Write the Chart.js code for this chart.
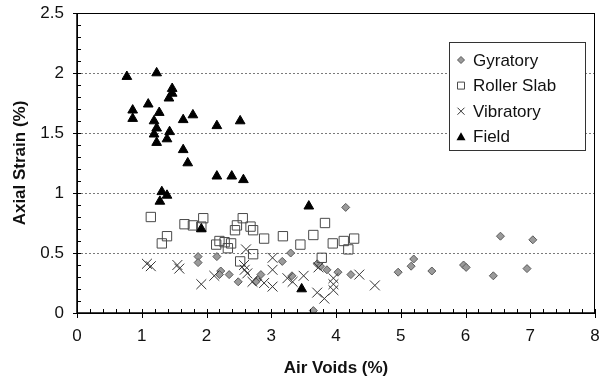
<!DOCTYPE html>
<html>
<head>
<meta charset="utf-8">
<script src="https://cdn.jsdelivr.net/npm/chart.js@4.4.1/dist/chart.umd.min.js"></script>
<style>
  html, body { margin: 0; padding: 0; background: #fff; }
  #wrap { width: 603px; height: 384px; }
</style>
</head>
<body>
<div id="wrap"><canvas id="chart" width="603" height="384"></canvas></div>
<script>
// Data (air voids %, axial strain %)
const gyratoryX = [1.87, 1.87, 2.16, 2.22, 2.20, 2.35, 2.49, 2.84, 2.79, 2.76, 3.17, 3.30, 3.32, 3.65, 3.71, 3.76, 3.86, 4.03, 4.23, 4.15, 4.96, 5.20, 5.16, 5.48, 5.97, 6.01, 6.43, 6.54, 6.95, 7.04];
const gyratoryY = [0.47, 0.42, 0.47, 0.35, 0.32, 0.32, 0.26, 0.32, 0.28, 0.26, 0.43, 0.50, 0.31, 0.02, 0.41, 0.39, 0.36, 0.34, 0.32, 0.88, 0.34, 0.45, 0.39, 0.35, 0.40, 0.38, 0.31, 0.64, 0.37, 0.61];

const rollerX = [1.14, 1.39, 1.31, 1.66, 1.79, 1.92, 1.95, 2.15, 2.20, 2.28, 2.38, 2.33, 2.47, 2.44, 2.56, 2.68, 2.72, 2.89, 2.72, 2.52, 3.18, 3.45, 3.65, 3.83, 3.78, 3.95, 4.12, 4.19, 4.28];
const rollerY = [0.80, 0.64, 0.58, 0.74, 0.73, 0.72, 0.79, 0.57, 0.60, 0.59, 0.58, 0.54, 0.73, 0.69, 0.79, 0.72, 0.69, 0.62, 0.49, 0.43, 0.64, 0.57, 0.65, 0.75, 0.46, 0.58, 0.60, 0.53, 0.62];

const vibratoryX = [1.08, 1.14, 1.55, 1.58, 1.92, 2.12, 2.61, 2.58, 2.59, 2.63, 2.71, 2.89, 3.02, 3.02, 3.02, 3.25, 3.33, 3.50, 3.73, 3.71, 3.82, 3.96, 3.96, 3.96, 4.36, 4.60];
const vibratoryY = [0.41, 0.39, 0.40, 0.37, 0.24, 0.31, 0.53, 0.40, 0.36, 0.33, 0.26, 0.25, 0.46, 0.36, 0.22, 0.29, 0.26, 0.31, 0.38, 0.17, 0.12, 0.29, 0.24, 0.19, 0.32, 0.23];

const fieldX = [0.77, 1.23, 1.47, 1.47, 1.42, 1.10, 0.86, 1.27, 0.86, 1.19, 1.64, 1.79, 2.16, 2.52, 1.23, 1.43, 1.19, 1.39, 1.23, 1.64, 1.71, 2.16, 2.39, 2.57, 1.31, 1.39, 1.28, 1.92, 3.58, 3.47];
const fieldY = [1.97, 2.00, 1.87, 1.83, 1.79, 1.74, 1.69, 1.67, 1.62, 1.60, 1.61, 1.65, 1.56, 1.60, 1.54, 1.51, 1.49, 1.45, 1.42, 1.36, 1.25, 1.14, 1.14, 1.11, 1.01, 0.98, 0.93, 0.70, 0.89, 0.20];

const seriesNames = ["Gyratory", "Roller Slab", "Vibratory", "Field"];
const xTicks = [0, 1, 2, 3, 4, 5, 6, 7, 8];
const yTicks = [0, 0.5, 1, 1.5, 2, 2.5];

const FONT = "'Liberation Sans', Arial, Helvetica, sans-serif";

function pts(xs, ys) {
  return xs.map((x, i) => ({ x, y: ys[i] }));
}

const styles = [
  { pointStyle: "rectRot", radius: 4, bg: "#9a9a9a", border: "#5a5a5a" },
  { pointStyle: "rect", radius: 6.6, bg: "rgba(0,0,0,0)", border: "#4a4a4a" },
  { pointStyle: "crossRot", radius: 7, bg: "rgba(0,0,0,0)", border: "#333" },
  { pointStyle: "triangle", radius: 5.6, bg: "#000", border: "#000" }
];

const dataSets = [pts(gyratoryX, gyratoryY), pts(rollerX, rollerY), pts(vibratoryX, vibratoryY), pts(fieldX, fieldY)];

// legend marker drawn by hand (small versions)
function legendMarker(ctx, kind, x, y) {
  ctx.save();
  ctx.lineWidth = 1;
  ctx.beginPath();
  if (kind === 0) {
    ctx.moveTo(x, y - 3.5); ctx.lineTo(x + 3.5, y); ctx.lineTo(x, y + 3.5); ctx.lineTo(x - 3.5, y); ctx.closePath();
    ctx.fillStyle = "#9a9a9a"; ctx.strokeStyle = "#5a5a5a"; ctx.fill(); ctx.stroke();
  } else if (kind === 1) {
    ctx.rect(x - 3.5, y - 3.5, 7, 7);
    ctx.strokeStyle = "#4a4a4a"; ctx.stroke();
  } else if (kind === 2) {
    ctx.moveTo(x - 3.5, y - 3.5); ctx.lineTo(x + 3.5, y + 3.5);
    ctx.moveTo(x + 3.5, y - 3.5); ctx.lineTo(x - 3.5, y + 3.5);
    ctx.strokeStyle = "#333"; ctx.stroke();
  } else {
    ctx.moveTo(x, y - 4.5); ctx.lineTo(x + 4.5, y + 3.5); ctx.lineTo(x - 4.5, y + 3.5); ctx.closePath();
    ctx.fillStyle = "#000"; ctx.fill();
  }
  ctx.restore();
}

const framePlugin = {
  id: "frame",
  beforeDatasetsDraw(chart) {
    const { ctx, chartArea: a, scales: { y } } = chart;
    // dotted gridlines
    ctx.save();
    ctx.strokeStyle = "#7a7a7a";
    ctx.lineWidth = 1;
    ctx.setLineDash([2, 2]);
    yTicks.slice(1, -1).forEach(v => {
      const py = Math.round(y.getPixelForValue(v)) + 0.5;
      ctx.beginPath(); ctx.moveTo(a.left, py); ctx.lineTo(a.right, py); ctx.stroke();
    });
    ctx.restore();
  },
  afterDraw(chart) {
    const { ctx, chartArea: a, scales: { x, y } } = chart;
    ctx.save();
    // frame
    ctx.strokeStyle = "#000";
    ctx.lineWidth = 1;
    ctx.strokeRect(Math.round(a.left) + 0.5, Math.round(a.top) + 0.5, Math.round(a.right - a.left) - 1, Math.round(a.bottom - a.top));
    ctx.lineWidth = 1.5;
    ctx.beginPath();
    ctx.moveTo(a.left, a.top); ctx.lineTo(a.left, a.bottom); ctx.lineTo(a.right, a.bottom);
    ctx.stroke();
    // ticks
    ctx.lineWidth = 1;
    for (let i = 0; i <= 40; i++) {
      const px = Math.round(x.getPixelForValue(i * 0.2)) + 0.5;
      const major = i % 5 === 0;
      ctx.beginPath();
      ctx.moveTo(px, a.bottom - 4);
      ctx.lineTo(px, a.bottom + (major ? 5 : 0));
      ctx.stroke();
    }
    for (let i = 0; i <= 25; i++) {
      const py = Math.round(y.getPixelForValue(i * 0.1)) + 0.5;
      const major = i % 5 === 0;
      ctx.beginPath();
      ctx.moveTo(a.left - (major ? 4 : 0), py);
      ctx.lineTo(a.left + 4, py);
      ctx.stroke();
    }
    // legend box
    const bx = 449.5, by = 42.5, bw = 136, bh = 108;
    ctx.fillStyle = "#fff";
    ctx.fillRect(bx, by, bw, bh);
    ctx.strokeStyle = "#333";
    ctx.strokeRect(bx, by, bw, bh);
    ctx.font = "17px " + FONT;
    ctx.fillStyle = "#111";
    ctx.textBaseline = "middle";
    ctx.textAlign = "left";
    seriesNames.forEach((name, i) => {
      const ly = 60 + i * 25.6;
      legendMarker(ctx, i, 461, ly);
      ctx.fillText(name, 473, ly + 1);
    });
    ctx.restore();
  }
};

const noPad = s => { s.paddingLeft = 0; s.paddingRight = 0; s.paddingTop = 0; s.paddingBottom = 0; };

new Chart(document.getElementById("chart"), {
  type: "scatter",
  data: {
    datasets: dataSets.map((d, i) => ({
      label: seriesNames[i],
      data: d,
      order: 3 - i,
      pointStyle: styles[i].pointStyle,
      pointRadius: styles[i].radius,
      pointHoverRadius: styles[i].radius,
      backgroundColor: styles[i].bg,
      borderColor: styles[i].border,
      borderWidth: 1
    }))
  },
  options: {
    responsive: false,
    animation: false,
    layout: { padding: { top: 13, right: 5, left: 0, bottom: 0 } },
    plugins: { legend: { display: false }, tooltip: { enabled: false } },
    scales: {
      x: {
        type: "linear",
        min: 0, max: 8,
        afterBuildTicks: s => { s.ticks = xTicks.map(v => ({ value: v })); },
        afterFit: s => { s.height = 71; noPad(s); },
        grid: { display: false, drawTicks: false },
        border: { display: false },
        ticks: { padding: 13, color: "#111", callback: v => String(v), font: { family: FONT, size: 17 } },
        title: { display: true, text: "Air Voids (%)", color: "#111", padding: { top: 0, bottom: 5 }, font: { family: FONT, size: 17, weight: "bold" } }
      },
      y: {
        type: "linear",
        min: 0, max: 2.5,
        afterBuildTicks: s => { s.ticks = yTicks.map(v => ({ value: v })); },
        afterFit: s => { s.width = 77; noPad(s); },
        grid: { display: false, drawTicks: false },
        border: { display: false },
        ticks: { padding: 13, color: "#111", callback: v => String(v), font: { family: FONT, size: 17 } },
        title: { display: true, text: "Axial Strain (%)", color: "#111", padding: { top: 10, bottom: 0 }, font: { family: FONT, size: 17, weight: "bold" } }
      }
    }
  },
  plugins: [framePlugin]
});
</script>
</body>
</html>
